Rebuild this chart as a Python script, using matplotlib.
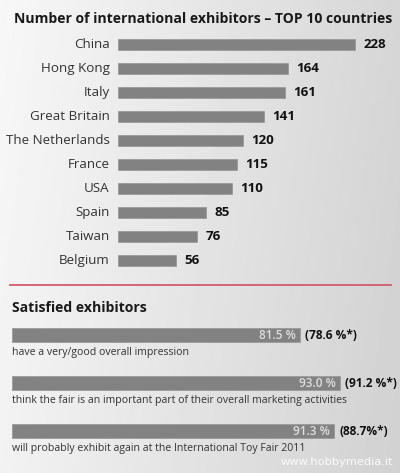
import numpy as np
import matplotlib.pyplot as plt

countries = ["China", "Hong Kong", "Italy", "Great Britain", "The Netherlands",
             "France", "USA", "Spain", "Taiwan", "Belgium"]
exhibitors = [228, 164, 161, 141, 120, 115, 110, 85, 76, 56]

sat_values = [81.5, 93.0, 91.3]
sat_previous = [78.6, 91.2, 88.7]
sat_prev_labels = ["(78.6 %*)", "(91.2 %*)", "(88.7%*)"]
sat_captions = ["have a very/good overall impression",
                "think the fair is an important part of their overall marketing activities",
                "will probably exhibit again at the International Toy Fair 2011"]

W, H = 400, 473
BAR = "#828282"
FONT = "Open Sans"


def px_axes(fig, x0, y0, x1, y1):
    # axes placed from pixel box (top-left origin)
    return fig.add_axes([x0 / W, 1 - y1 / H, (x1 - x0) / W, (y1 - y0) / H])


def main():
    fig = plt.figure(figsize=(W / 100, H / 100), dpi=100)

    # background gradient, light on the left, grey on the right
    bg = fig.add_axes([0, 0, 1, 1], zorder=-1)
    grad = np.linspace(0.97, 0.84, 256)
    yy = np.linspace(0.0, 0.02, 64)[:, None]
    img = np.clip(grad[None, :] - yy, 0, 1)
    bg.imshow(img, cmap="gray", vmin=0, vmax=1, aspect="auto",
              extent=[0, 1, 0, 1])
    bg.set_axis_off()

    fig.text(14 / W, 1 - 19 / H,
             "Number of international exhibitors \u2013 TOP 10 countries",
             fontsize=10.1, fontweight="bold", family=FONT, color="#1a1a1a",
             va="center", ha="left")

    # top chart
    ax = px_axes(fig, 118, 32, 388, 273)
    ax.patch.set_alpha(0)
    y = np.arange(len(countries))
    ax.barh(y, exhibitors, height=0.46, color=BAR, edgecolor="#9a9a9a",
            linewidth=0.6)
    ax.set_xlim(0, 260)
    ax.set_ylim(len(countries) - 0.5, -0.5)
    for i, (c, v) in enumerate(zip(countries, exhibitors)):
        ax.text(-8, i, c, ha="right", va="center", fontsize=9.6,
                family=FONT, color="#333333")
        ax.text(v + 8, i, str(v), ha="left", va="center", fontsize=9.6,
                fontweight="bold", family=FONT, color="#111111")
    ax.set_axis_off()

    # red separator
    fig.add_artist(plt.Line2D([10 / W, 391 / W], [1 - 285 / H, 1 - 285 / H],
                              color="#d45a6e", linewidth=1.3))

    fig.text(12 / W, 1 - 308 / H, "Satisfied exhibitors", fontsize=10.1,
             fontweight="bold", family=FONT, color="#1a1a1a",
             va="center", ha="left")

    # bottom chart
    ax2 = px_axes(fig, 12, 311, 365, 455)
    ax2.patch.set_alpha(0)
    r = np.arange(len(sat_values))
    ax2.barh(r, sat_values, height=0.29, color=BAR, edgecolor="#9a9a9a",
             linewidth=0.6)
    ax2.set_xlim(0, 100)
    ax2.set_ylim(len(sat_values) - 0.5, -0.5)
    for i, (v, p, cap) in enumerate(zip(sat_values, sat_prev_labels,
                                        sat_captions)):
        ax2.text(v - 1.2, i, f"{v:.1f} %", ha="right", va="center",
                 fontsize=8.6, fontweight="semibold", family=FONT,
                 color="#dedede")
        ax2.text(v + 1.4, i, p, ha="left", va="center", fontsize=8.6,
                 fontweight="bold", family=FONT, color="#111111")
        ax2.text(0, i + 0.36, cap, ha="left", va="center", fontsize=7.6,
                 family=FONT, color="#333333")
    ax2.set_axis_off()

    fig.text(393 / W, 1 - 462 / H, "www.hobbymedia.it", fontsize=8.2,
             family="DejaVu Sans", color="#fafafa", ha="right", va="center")

    fig.savefig("out.png", dpi=100)


if __name__ == "__main__":
    main()
